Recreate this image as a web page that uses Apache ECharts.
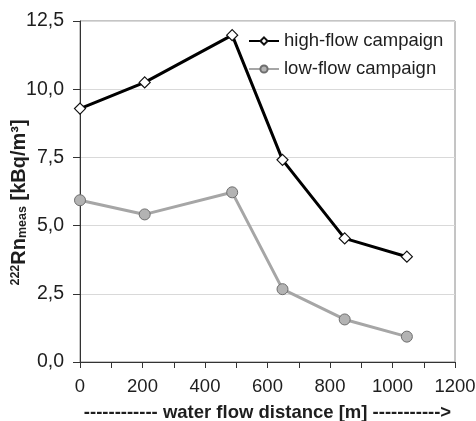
<!DOCTYPE html>
<html>
<head>
<meta charset="utf-8">
<script src="https://cdn.jsdelivr.net/npm/echarts@6/dist/echarts.min.js"></script>
<style>
    html, body { margin: 0; padding: 0; background: #fff; }
    #chart { width: 476px; height: 421px; }
</style>
</head>
<body>
<div id="chart"></div>
<script>
// distance along the water flow [m]
const distances = [0, 207, 487, 648, 847, 1046]
// 222Rn activity [kBq/m3]
const highFlow = [9.29, 10.25, 11.98, 7.41, 4.53, 3.86]
const lowFlow = [5.93, 5.41, 6.22, 2.67, 1.56, 0.93]
const seriesNames = ['high-flow campaign', 'low-flow campaign']

const font = 'Liberation Sans, Arial, sans-serif'
const textColor = '#1e1e1e'

const pairs = (xs, ys) => xs.map((x, i) => [x, ys[i]])

const chart = echarts.init(document.getElementById('chart'), null, { renderer: 'canvas' })

chart.setOption({
    animation: false,
    backgroundColor: '#fff',
    textStyle: { fontFamily: font },
    grid: {
        left: 80, right: 21, top: 21, bottom: 59,
        containLabel: false, outerBoundsMode: 'none',
        show: true, borderColor: '#8a8a8a', borderWidth: 1, backgroundColor: '#fff'
    },
    legend: {
        orient: 'vertical',
        left: 243, top: 26,
        itemWidth: 30, itemHeight: 9, itemGap: 8,
        textStyle: { fontSize: 18.5, color: textColor, fontFamily: font, lineHeight: 20 },
        data: seriesNames
    },
    xAxis: {
        type: 'value',
        min: 0, max: 1200, interval: 100,
        axisLine: { lineStyle: { color: '#333', width: 1 } },
        axisTick: { show: true, length: 6, lineStyle: { color: '#333' } },
        splitLine: { show: false },
        axisLabel: {
            fontSize: 18.5, color: textColor, margin: 15,
            formatter: v => (v % 200 === 0 ? String(v) : '')
        },
        name: '------------ water flow distance [m] ----------->',
        nameLocation: 'middle',
        nameGap: 41,
        nameMoveOverlap: false,
        nameTextStyle: { fontSize: 18.5, fontWeight: 'bold', color: textColor, fontFamily: font }
    },
    yAxis: {
        type: 'value',
        min: 0, max: 12.5, interval: 2.5,
        axisLine: { show: true, lineStyle: { color: '#333', width: 1 } },
        axisTick: { show: true, length: 7, lineStyle: { color: '#333' } },
        splitLine: { show: true, lineStyle: { color: '#d9d9d9', width: 1 } },
        axisLabel: {
            fontSize: 19.5, color: textColor, margin: 16,
            formatter: v => v.toFixed(1).replace('.', ',')
        },
        name: '{sup|222}{main|Rn}{sub|meas}{main| [kBq/m³]}{gap| }',
        nameLocation: 'middle',
        nameGap: 51,
        nameMoveOverlap: false,
        nameTextStyle: {
            color: textColor, fontFamily: font,
            rich: {
                sup: { fontSize: 12.5, fontWeight: 'bold', verticalAlign: 'top', color: textColor, padding: [0, 0, 6, 0] },
                main: { fontSize: 20, fontWeight: 'bold', color: textColor },
                sub: { fontSize: 12.5, fontWeight: 'bold', verticalAlign: 'bottom', color: textColor, padding: [6, 0, 0, 0] },
                gap: { width: 22, fontSize: 12 }
            }
        }
    },
    series: [
        {
            name: seriesNames[0],
            type: 'line',
            data: pairs(distances, highFlow),
            symbol: 'diamond',
            symbolSize: 11,
            lineStyle: { color: '#000', width: 3 },
            itemStyle: { color: '#fff', borderColor: '#111', borderWidth: 1.2 },
            z: 3
        },
        {
            name: seriesNames[1],
            type: 'line',
            data: pairs(distances, lowFlow),
            symbol: 'circle',
            symbolSize: 11,
            lineStyle: { color: '#a6a6a6', width: 3 },
            itemStyle: { color: '#b3b3b3', borderColor: '#6e6e6e', borderWidth: 1 },
            z: 2
        }
    ]
})
</script>
</body>
</html>
